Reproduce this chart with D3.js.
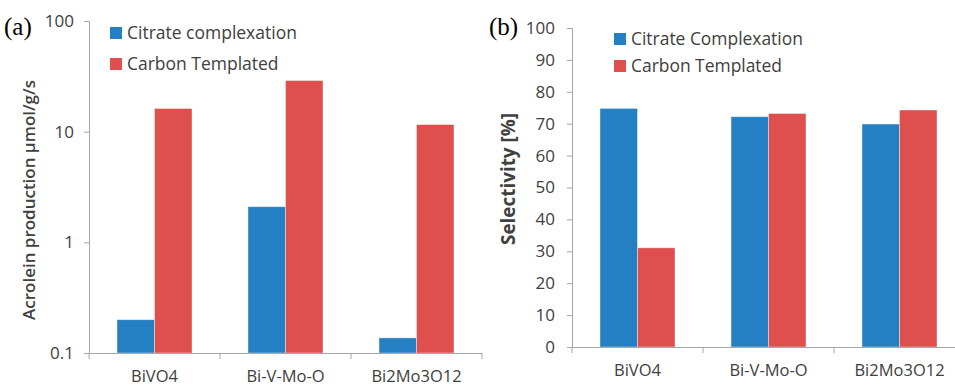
<!DOCTYPE html>
<html>
<head>
<meta charset="utf-8">
<script src="https://cdn.jsdelivr.net/npm/d3@7"></script>
<style>
  body { margin: 0; background: #fff; }
  svg text { font-family: "Open Sans", "Noto Sans", sans-serif; fill: #404040; }
</style>
</head>
<body>
<svg width="955" height="388"></svg>
<script>
const categories = ["BiVO4", "Bi-V-Mo-O", "Bi2Mo3O12"];

// panel (a): acrolein production, log scale
const productionCitrate = [0.2, 2.1, 0.137];
const productionCarbon = [16.2, 29, 11.6];
const productionTicks = [0.1, 1, 10, 100];
const productionSeries = ["Citrate complexation", "Carbon Templated"];

// panel (b): selectivity
const selectivityCitrate = [74.8, 72.2, 69.9];
const selectivityCarbon = [31.1, 73.2, 74.3];
const selectivityTicks = [0, 10, 20, 30, 40, 50, 60, 70, 80, 90, 100];
const selectivitySeries = ["Citrate Complexation", "Carbon Templated"];

const colors = ["#2580c3", "#de4f4e"];
const axisColor = "#a6a6a6";

const svg = d3.select("svg");

// shrink/grow a text's font so it spans roughly the width seen in the picture
function fitText(sel, target) {
    sel.each(function () {
        const t = d3.select(this);
        const fs = parseFloat(t.attr("font-size"));
        const len = this.getComputedTextLength();
        if (len > 0) t.attr("font-size", fs * target / len);
    });
}

function drawPanel(opt) {
    const g = svg.append("g");

    const x = d3.scaleBand()
        .domain(categories)
        .range([opt.left, opt.left + 131 * categories.length]);

    // two bars of ~37.5px centred in each category
    const inner = d3.scaleBand()
        .domain([0, 1])
        .range([x.bandwidth() / 2 - 37.5, x.bandwidth() / 2 + 37.5]);

    const y = opt.y;

    // bars
    const rows = categories.map((c, i) => ({ c, vals: [opt.a[i], opt.b[i]] }));
    g.selectAll("g.cat")
        .data(rows)
        .join("g")
        .attr("transform", d => `translate(${x(d.c)},0)`)
        .selectAll("rect")
        .data(d => d.vals.map((v, k) => ({ v, k })))
        .join("rect")
        .attr("x", d => inner(d.k))
        .attr("width", inner.bandwidth())
        .attr("y", d => y(d.v))
        .attr("height", d => y(opt.base) - y(d.v))
        .attr("fill", d => colors[d.k])
        .attr("stroke", "#fff")
        .attr("stroke-opacity", 0.5)
        .attr("stroke-width", 0.8);

    // y axis
    const ya = g.append("g")
        .attr("transform", `translate(${opt.left},0)`)
        .call(d3.axisLeft(y)
            .tickValues(opt.ticks)
            .tickSize(5)
            .tickPadding(opt.tickPad)
            .tickFormat(opt.fmt));
    ya.select(".domain").attr("stroke", axisColor);
    ya.selectAll(".tick line").attr("stroke", axisColor);
    ya.selectAll("text").attr("font-size", 17).attr("fill", "#404040");

    // x axis
    const xa = g.append("g")
        .attr("transform", `translate(0,${y(opt.base)})`)
        .call(d3.axisBottom(x).tickSize(0).tickPadding(17));
    xa.select(".domain").attr("stroke", axisColor);
    xa.selectAll("text").attr("font-size", 16.5).attr("fill", "#404040");

    // category separators
    g.selectAll("line.sep")
        .data(categories.map(c => x(c)).concat([x.range()[1]]))
        .join("line")
        .attr("x1", d => d).attr("x2", d => d)
        .attr("y1", y(opt.base)).attr("y2", y(opt.base) + 6)
        .attr("stroke", axisColor);

    // axis title
    g.append("text")
        .attr("transform", `translate(${opt.titleX},${opt.titleY}) rotate(-90)`)
        .attr("text-anchor", "middle")
        .attr("dy", "0.35em")
        .attr("font-size", 16)
        .attr("font-weight", opt.titleWeight)
        .text(opt.title)
        .call(fitText, opt.titleLen);

    // legend
    const leg = g.selectAll("g.leg")
        .data(opt.series)
        .join("g")
        .attr("transform", (d, i) => `translate(${opt.legX},${opt.legY + i * opt.legStep})`);
    leg.append("rect")
        .attr("x", 0).attr("y", -6)
        .attr("width", 12).attr("height", 12)
        .attr("fill", (d, i) => colors[i]);
    leg.append("text")
        .attr("x", 17)
        .attr("dy", "0.35em")
        .attr("font-size", 17)
        .text(d => d);
    fitText(leg.filter((d, i) => i === 0).select("text"), opt.legLen);
    const fs = leg.filter((d, i) => i === 0).select("text").attr("font-size");
    leg.selectAll("text").attr("font-size", fs);

    // panel letter
    g.append("text")
        .attr("x", opt.letterX)
        .attr("y", 35)
        .attr("font-size", 25)
        .style("font-family", "'Liberation Serif', 'Times New Roman', serif")
        .style("fill", "#000")
        .text(opt.letter);
}

drawPanel({
    left: 89,
    y: d3.scaleLog().domain([0.1, 100]).range([353, 21]),
    base: 0.1,
    a: productionCitrate,
    b: productionCarbon,
    ticks: productionTicks,
    tickPad: 10,
    fmt: d => d3.format("~g")(d),
    title: "Acrolein production µmol/g/s",
    titleX: 29, titleY: 200, titleLen: 240,
    titleWeight: 600,
    series: productionSeries,
    legX: 110, legY: 33, legStep: 31, legLen: 170,
    letter: "(a)", letterX: 4
});

drawPanel({
    left: 572,
    y: d3.scaleLinear().domain([0, 100]).range([347, 28]),
    base: 0,
    a: selectivityCitrate,
    b: selectivityCarbon,
    ticks: selectivityTicks,
    tickPad: 12,
    fmt: d => d,
    title: "Selectivity [%]",
    titleX: 508, titleY: 179, titleLen: 132,
    titleWeight: 700,
    series: selectivitySeries,
    legX: 614, legY: 39, legStep: 27, legLen: 172,
    letter: "(b)", letterX: 489
});
</script>
</body>
</html>
